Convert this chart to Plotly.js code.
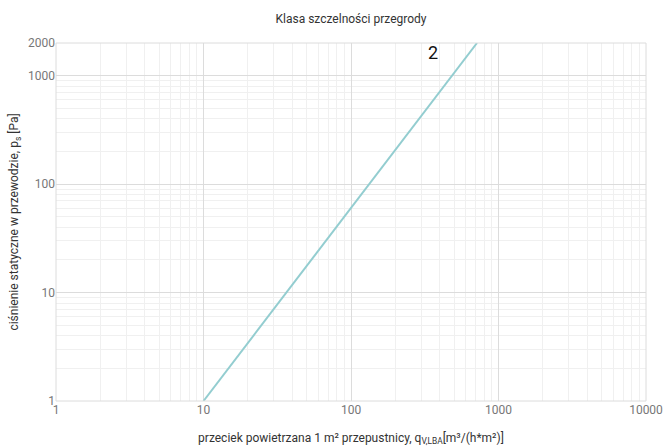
<!DOCTYPE html>
<html>
<head>
<meta charset="utf-8">
<script src="https://cdn.plot.ly/plotly-3.0.1.min.js"></script>
<style>html,body{margin:0;padding:0;background:#fff;}#chart{width:671px;height:448px;}</style>
</head>
<body>
<div id="chart"></div>
<script>
// Class 2 leakage line
var leakX = [10, 100, 715];
var pressureY = [1, 60, 2000];
var className = '2';
var xTickVals = [1, 10, 100, 1000, 10000];
var xTickText = ['1', '10', '100', '1000', '10000'];
var yTickVals = [1, 10, 100, 1000, 2000];
var yTickText = ['1', '10', '100', '1000', '2000'];

function minorVals(lo, hi) {
  var out = [];
  for (var d = lo; d < hi; d *= 10) {
    for (var k = 2; k <= 9; k++) {
      if (k * d < hi) out.push(k * d);
    }
  }
  return out;
}

var trace = {
  x: leakX, y: pressureY, mode: 'lines', type: 'scatter',
  line: {color: '#93cdd0', width: 2}, hoverinfo: 'none', showlegend: false
};

var fontFam = 'Roboto, "Open Sans", sans-serif';
var layout = {
  width: 671, height: 448,
  margin: {l: 56, r: 25, t: 43, b: 47},
  paper_bgcolor: '#fff', plot_bgcolor: '#fff',
  font: {family: fontFam, size: 12, color: '#666'},
  title: {text: 'Klasa szczelności przegrody', x: 0.5, xref: 'paper', y: 1 - 19 / 448, yref: 'container', yanchor: 'middle',
          font: {family: fontFam, size: 12, color: '#333'}},
  xaxis: {
    type: 'log', range: [0, 4],
    tickmode: 'array', tickvals: xTickVals, ticktext: xTickText,
    showgrid: true, gridcolor: '#dcdcdc', gridwidth: 1,
    minor: {tickmode: 'array', tickvals: minorVals(1, 10000), showgrid: true, gridcolor: '#f0f0f0', gridwidth: 1, ticks: ''},
    zeroline: false, showline: false, ticks: '', ticklen: 0,
    tickfont: {size: 12, color: '#777'},
    title: {text: 'przeciek powietrzana 1 m² przepustnicy, q<sub>V,LBA</sub>[m³/(h*m²)]', standoff: 17,
            font: {family: fontFam, size: 12, color: '#333'}}
  },
  yaxis: {
    type: 'log', range: [0, Math.log10(2000)],
    tickmode: 'array', tickvals: yTickVals, ticktext: yTickText,
    showgrid: true, gridcolor: '#dcdcdc', gridwidth: 1,
    minor: {tickmode: 'array', tickvals: minorVals(1, 2000), showgrid: true, gridcolor: '#f0f0f0', gridwidth: 1, ticks: ''},
    zeroline: false, showline: false, ticks: '', ticklen: 0,
    tickfont: {size: 12, color: '#777'},
    title: {text: 'ciśnienie statyczne w przewodzie, p<sub>s</sub> [Pa]', standoff: 6,
            font: {family: fontFam, size: 12, color: '#333'}}
  },
  shapes: [
    {type: 'rect', xref: 'paper', yref: 'paper', x0: 0, x1: 1, y0: 0, y1: 1, line: {color: '#dcdcdc', width: 1}}
  ],
  annotations: [
    {x: Math.log10(360), y: Math.log10(1650), xref: 'x', yref: 'y', text: className, showarrow: false,
     font: {family: fontFam, size: 18, color: '#111'}}
  ]
};

Plotly.newPlot('chart', [trace], layout, {staticPlot: true, displayModeBar: false});
</script>
</body>
</html>
